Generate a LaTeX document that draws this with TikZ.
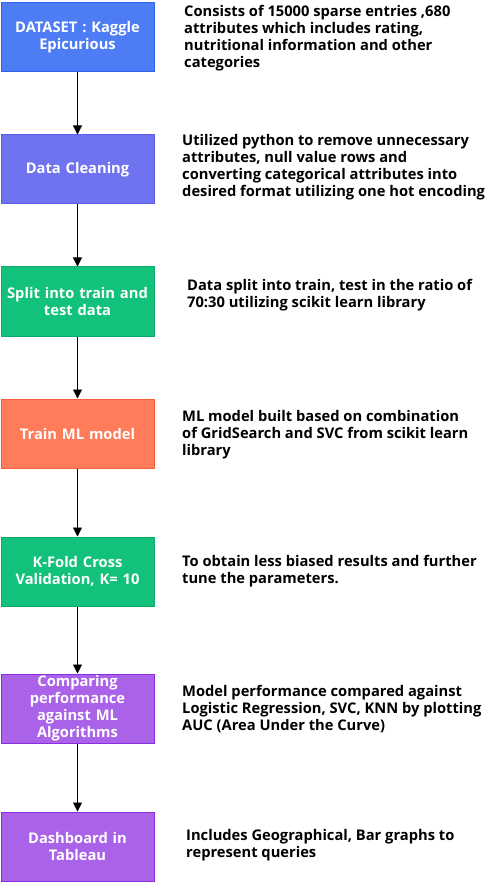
\documentclass[tikz,border=0pt]{standalone}
\usepackage{fontspec}
\setmainfont{Open Sans}
\usetikzlibrary{arrows.meta}
\definecolor{cblue}{HTML}{4D7CF5}
\definecolor{cbluee}{HTML}{3062EC}
\definecolor{cindigo}{HTML}{7073F0}
\definecolor{cindigoe}{HTML}{5A5DEA}
\definecolor{cgreen}{HTML}{12C17A}
\definecolor{cgreene}{HTML}{0EAA6A}
\definecolor{corange}{HTML}{FF7C5A}
\definecolor{corangee}{HTML}{F45E38}
\definecolor{cpurple}{HTML}{AA62E8}
\definecolor{cpurplee}{HTML}{8B2EE0}
\begin{document}
\begin{tikzpicture}[x=1pt,y=-1pt,
  stepbox/.style={draw, line width=1pt, minimum width=153pt, minimum height=69pt,
    inner sep=1pt, text=white, align=center, text width=150pt,
    font=\fontsize{14.7}{17}\selectfont\bfseries},
  desc/.style={anchor=base west, inner sep=0pt, align=left,
    font=\fontsize{14.7}{17}\selectfont\bfseries, text=black},
  flow/.style={-{Triangle[width=9pt,length=9pt]}, line width=0.8pt, black}]
\useasboundingbox (0,0) rectangle (495,882);
\fill[white] (0,0) rectangle (495,882);
\node[stepbox, fill=cblue, draw=cbluee] (b1) at (77.5,37.5) {DATASET : Kaggle\\Epicurious};
\node[stepbox, fill=cindigo, draw=cindigoe] (b2) at (77.5,169.5) {Data Cleaning};
\node[stepbox, fill=cgreen, draw=cgreene] (b3) at (77.5,301.5) {Split into train and\\test data};
\node[stepbox, fill=corange, draw=corangee] (b4) at (77.5,433.5) {Train ML model};
\node[stepbox, fill=cgreen, draw=cgreene] (b5) at (77.5,571.5) {K-Fold Cross\\Validation, K= 10};
\node[stepbox, fill=cpurple, draw=cpurplee] (b6) at (77.5,708.5) {Comparing\\performance\\against ML\\Algorithms};
\node[stepbox, fill=cpurple, draw=cpurplee] (b7) at (77.5,846.5) {Dashboard in\\Tableau};
\draw[flow] (b1) -- (b2);
\draw[flow] (b2) -- (b3);
\draw[flow] (b3) -- (b4);
\draw[flow] (b4) -- (b5);
\draw[flow] (b5) -- (b6);
\draw[flow] (b6) -- (b7);
\node[desc] (t1) at (184,68) {Consists of 15000 sparse entries ,680\\attributes which includes rating,\\nutritional information and other\\categories};
\node[desc] (t2) at (182,197) {Utilized python to remove unnecessary\\attributes, null value rows and\\converting categorical attributes into\\desired format utilizing one hot encoding};
\node[desc] (t3) at (187,307) {Data split into train, test in the ratio of\\70:30 utilizing scikit learn library};
\node[desc] (t4) at (182,455) {ML model built based on combination\\of GridSearch and SVC from scikit learn\\library};
\node[desc] (t5) at (182,583) {To obtain less biased results and further\\tune the parameters.};
\node[desc] (t6) at (182,730) {Model performance compared against\\Logistic Regression, SVC, KNN by plotting\\AUC (Area Under the Curve)};
\node[desc] (t7) at (186,857) {Includes Geographical, Bar graphs to\\represent queries};
\end{tikzpicture}
\end{document}
